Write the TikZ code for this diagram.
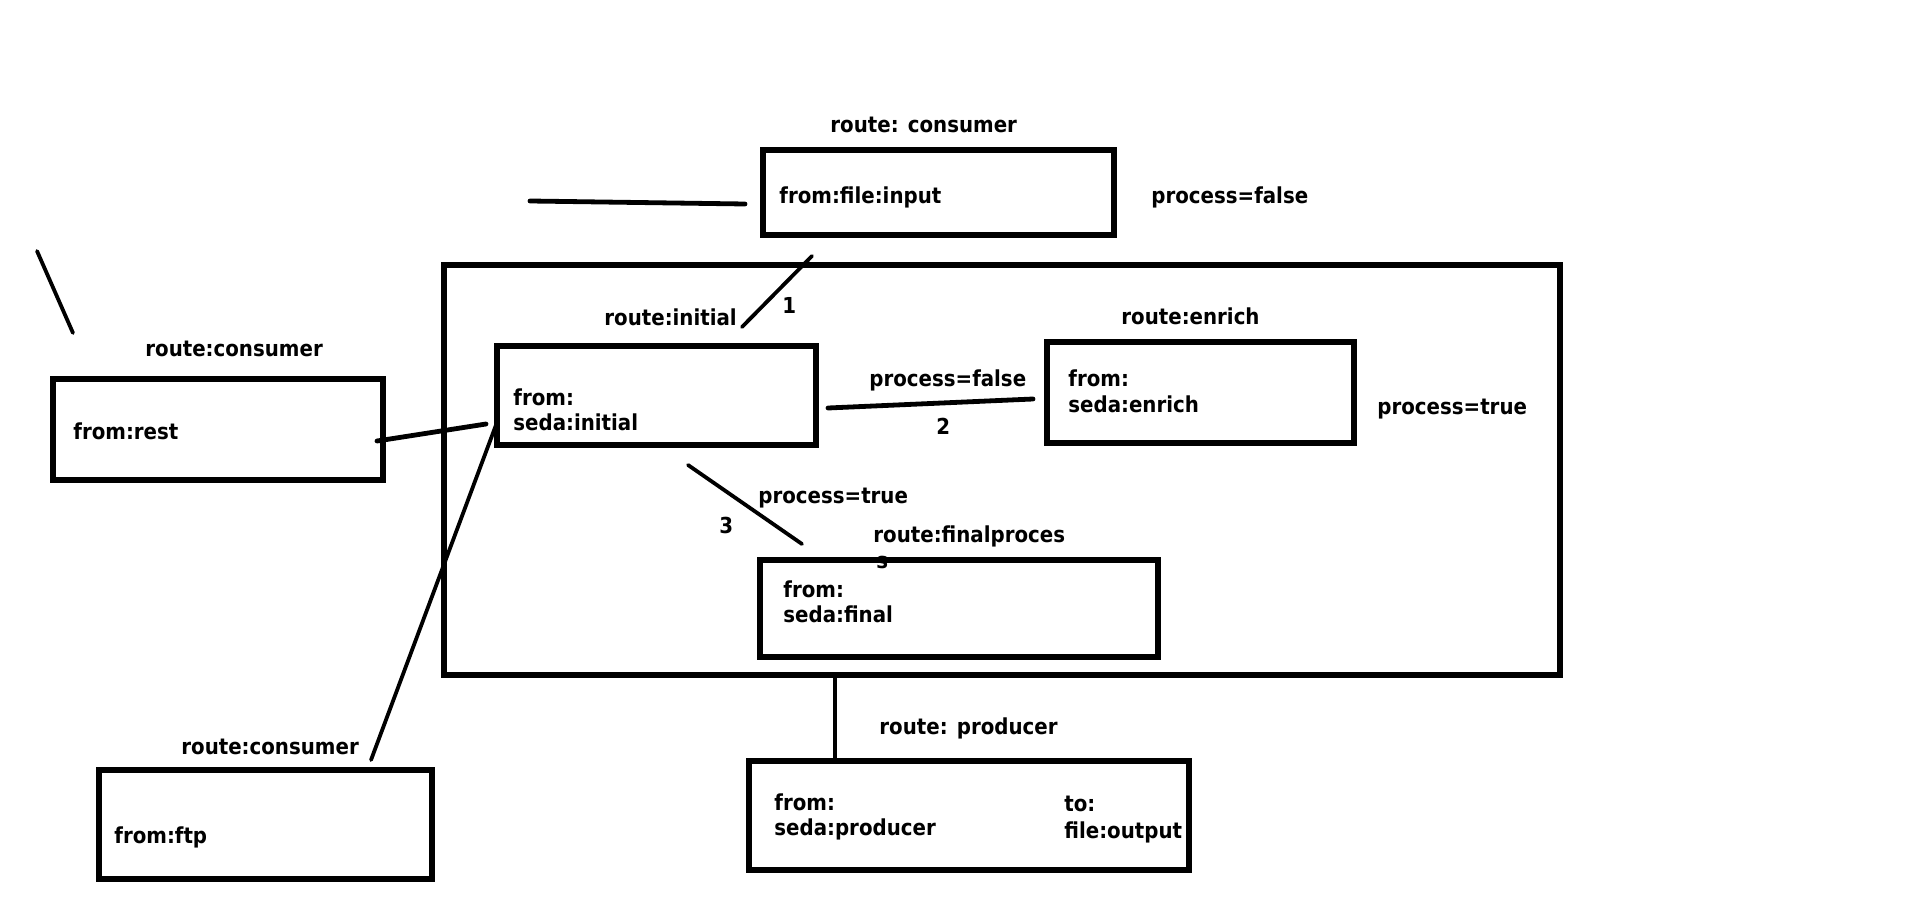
\documentclass[tikz,border=0pt]{standalone}
\usepackage{fontspec}
\setmainfont{DejaVu Sans Condensed}
\begin{document}
\begin{tikzpicture}[x=0.5pt,y=-0.5pt,
  box/.style={draw, line width=2.8pt, inner sep=0pt, anchor=north west, xshift=-1pt, yshift=1pt},
  wire/.style={line width=2.4pt, line cap=round},
  thinwire/.style={line width=1.9pt, line cap=round},
  lbl/.style={anchor=west, inner sep=0pt, yshift=-2pt, font=\bfseries\fontsize{11}{13}\selectfont,
              text height=0.75em, text depth=0.22em}
]
\useasboundingbox (0,0) rectangle (1914,903);

% labels drawn first so box outlines lie over them
\node[lbl] (tConsumer) at (830,123) {route: consumer};
\node[lbl] (tFinal)  at (873,533) {route:finalproces};
\node[lbl] (tFinalS) at (876,559) {s};

% outer container
\node[box, minimum width=558pt, minimum height=205pt] (cont) at (443,264) {};

% route boxes
\node[box, minimum width=175.5pt, minimum height=42.5pt] (fi) at (762,149) {};
\node[box, minimum width=159.5pt, minimum height=49.5pt] (init) at (496,345) {};
\node[box, minimum width=153.5pt, minimum height=50.5pt] (enrich) at (1046,341) {};
\node[box, minimum width=199pt, minimum height=48.5pt] (final) at (759,559) {};
\node[box, minimum width=220pt, minimum height=54.5pt] (prod) at (748,760) {};
\node[box, minimum width=165pt, minimum height=50.5pt] (rest) at (52,378) {};
\node[box, minimum width=166.5pt, minimum height=54.5pt] (ftp) at (98,769) {};

% texts
\node[lbl] (fiA) at (779,194) {from:file:input};
\node[lbl] (pf1) at (1151,194) {process=false};
\node[lbl] (tInit) at (604,316) {route:initial};
\node[lbl] (n1) at (782,304) {1};
\node[lbl] (initA) at (513,396) {from:};
\node[lbl] (initB) at (513,421) {seda:initial};
\node[lbl] (pf2) at (869,377) {process=false};
\node[lbl] (n2) at (936,425) {2};
\node[lbl] (tEnrich) at (1121,315) {route:enrich};
\node[lbl] (enA) at (1068,377) {from:};
\node[lbl] (enB) at (1068,403) {seda:enrich};
\node[lbl] (pt1) at (1377,405) {process=true};
\node[lbl] (pt2) at (758,494) {process=true};
\node[lbl] (n3) at (719,524) {3};
\node[lbl] (finA) at (783,588) {from:};
\node[lbl] (finB) at (783,613) {seda:final};
\node[lbl] (tProd) at (879,725) {route: producer};
\node[lbl] (prA) at (774,801) {from:};
\node[lbl] (prB) at (774,826) {seda:producer};
\node[lbl] (prC) at (1064,802) {to:};
\node[lbl] (prD) at (1064,829) {file:output};
\node[lbl] (tRest) at (145,347) {route:consumer};
\node[lbl] (restA) at (73,430) {from:rest};
\node[lbl] (tFtp) at (181,745) {route:consumer};
\node[lbl] (ftpA) at (114,834) {from:ftp};

% connector end points
\coordinate (l0a) at (530,201);
\coordinate (l0b) at (745,204);
\coordinate (c1a) at (812,256);
\coordinate (c1b) at (742,327);
\coordinate (c2a) at (828,408);
\coordinate (c2b) at (1033,399);
\coordinate (c3a) at (688,465);
\coordinate (c3b) at (802,544);
\coordinate (c4a) at (835,674);
\coordinate (c4b) at (835,760);
\coordinate (s0a) at (37,251);
\coordinate (s0b) at (73,333);
\coordinate (r1a) at (377,441);
\coordinate (r1b) at (486,424);
\coordinate (f1a) at (371,760);
\coordinate (f1b) at (496,425);

% connectors
\draw[wire] (l0a) -- (l0b);
\draw[thinwire] (c1a) -- (c1b);
\draw[wire] (c2a) -- (c2b);
\draw[thinwire] (c3a) -- (c3b);
\draw[thinwire] (c4a) -- (c4b);
\draw[thinwire] (s0a) -- (s0b);
\draw[wire] (r1a) -- (r1b);
\draw[thinwire] (f1a) -- (f1b);
\end{tikzpicture}
\end{document}
